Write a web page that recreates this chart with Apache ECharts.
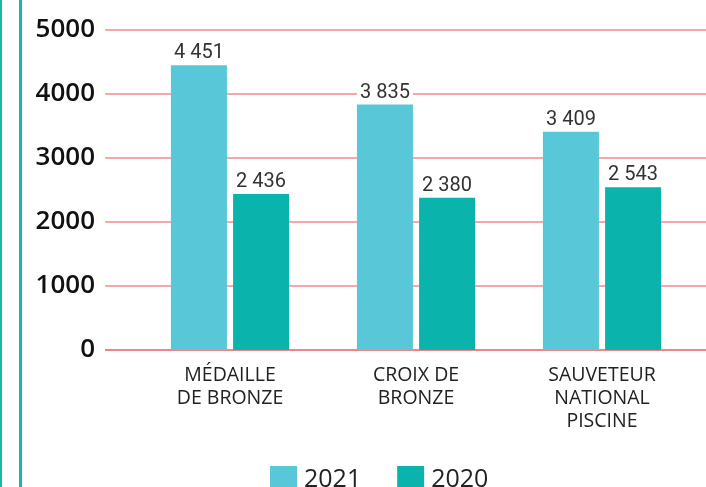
<!DOCTYPE html>
<html>
<head>
<meta charset="utf-8">
<script src="https://cdn.jsdelivr.net/npm/echarts@6/dist/echarts.min.js"></script>
<style>
	html, body {margin: 0; padding: 0; background: #fff;}
	#main {width: 706px; height: 487px;}
</style>
</head>
<body>
<div id="main"></div>
<script>
var categories = ['MÉDAILLE\nDE BRONZE', 'CROIX DE\nBRONZE', 'SAUVETEUR\nNATIONAL\nPISCINE']
var seriesNames = ['2021', '2020']
var values2021 = [4451, 3835, 3409]
var values2020 = [2436, 2380, 2543]
var yTicks = [0, 1000, 2000, 3000, 4000, 5000]

var colors = ['#58C7D8', '#0BB3AD']

//格式化数字 4451 -> "4 451"
function fmt(v) {
	return String(v).replace(/\B(?=(\d{3})+(?!\d))/g, ' ')
}

var chart = echarts.init(document.getElementById('main'))

var labelStyle = {
	show: true,
	position: 'top',
	distance: 2,
	fontFamily: 'Roboto',
	fontSize: 20,
	color: '#333',
	backgroundColor: '#fff',
	padding: [0, 3, 0, 3],
	formatter: function(p) { return fmt(p.value) }
}

var option = {
	animation: false,
	color: colors,
	//左边的装饰线
	graphic: [
		{type: 'rect', left: 0, top: 0, shape: {width: 2, height: 487}, style: {fill: '#1BB5AE'}},
		{type: 'rect', left: 19, top: 0, shape: {width: 3, height: 487}, style: {fill: '#1BB5AE'}}
	],
	legend: {
		data: seriesNames,
		left: 265,
		top: 461,
		itemWidth: 27,
		itemHeight: 27,
		itemGap: 36,
		icon: 'rect',
		textStyle: {fontFamily: 'Open Sans', fontSize: 25, color: '#222', padding: [0, 0, 0, 2]}
	},
	grid: [
		{left: 105, right: 0, top: 30, bottom: 137},
		{left: 137, right: 11, top: 30, bottom: 137}
	],
	xAxis: [
		{gridIndex: 0, type: 'category', data: categories, show: false},
		{
			gridIndex: 1, type: 'category', data: categories,
			axisLine: {show: false}, axisTick: {show: false},
			axisLabel: {
				margin: 14, interval: 0,
				fontFamily: 'Open Sans', fontSize: 19.5, color: '#222', lineHeight: 23
			}
		}
	],
	yAxis: [
		{
			gridIndex: 0, type: 'value', min: yTicks[0], max: yTicks[yTicks.length - 1], interval: 1000,
			axisLine: {show: false}, axisTick: {show: false},
			axisLabel: {
				margin: 10, fontFamily: 'Open Sans', fontWeight: 600, fontSize: 26, color: '#111',
				formatter: function(v) { return String(v) }
			},
			splitLine: {lineStyle: {color: ['#EE5A64', '#F4898F', '#F4898F', '#F4898F', '#F4898F', '#F4898F'], width: 1.5}}
		},
		{
			gridIndex: 1, type: 'value', min: yTicks[0], max: yTicks[yTicks.length - 1], interval: 1000,
			show: false, splitLine: {show: false}
		}
	],
	series: [
		{
			name: seriesNames[0], type: 'bar', xAxisIndex: 1, yAxisIndex: 1,
			data: values2021, barWidth: 56, barGap: '11%', label: labelStyle
		},
		{
			name: seriesNames[1], type: 'bar', xAxisIndex: 1, yAxisIndex: 1,
			data: values2020, barWidth: 56, barGap: '11%', label: labelStyle
		}
	]
}

chart.setOption(option)
</script>
</body>
</html>
